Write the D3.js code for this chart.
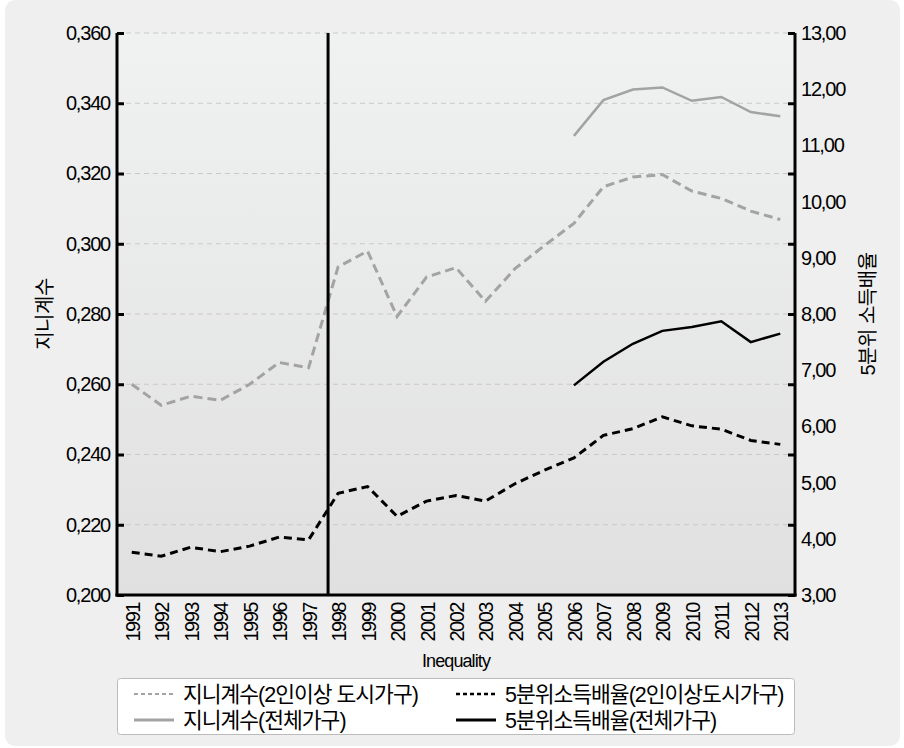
<!DOCTYPE html>
<meta charset="utf-8">
<script src="https://d3js.org/d3.v7.min.js"></script>
<style>
  body { margin: 0; background: #fff; }
  text { font-family: "Liberation Sans", "Noto Sans CJK KR", sans-serif; fill: #000; }
</style>
<div id="chart"></div>
<script>

// data
var years = d3.range(1991, 2014);
var giniUrban = [0.260, 0.254, 0.2566, 0.2554, 0.2600, 0.2662, 0.2647, 0.2934, 0.2979, 0.2793,
  0.2905, 0.2932, 0.2836, 0.2929, 0.2995, 0.3058, 0.3162, 0.3190, 0.3197, 0.3150, 0.3129, 0.3093, 0.3069];
var giniAllYears = d3.range(2006, 2014);
var giniAll = [0.3307, 0.3409, 0.3439, 0.3445, 0.3407, 0.3418, 0.3375, 0.3363];
var ratioUrban = [3.76, 3.69, 3.85, 3.77, 3.87, 4.03, 3.98, 4.81, 4.93, 4.40,
  4.67, 4.77, 4.67, 4.98, 5.22, 5.44, 5.84, 5.96, 6.17, 6.01, 5.95, 5.75, 5.68];
var ratioAll = [6.73, 7.15, 7.47, 7.70, 7.77, 7.87, 7.50, 7.65];
var leftTicks = [0.20, 0.22, 0.24, 0.26, 0.28, 0.30, 0.32, 0.34, 0.36];
var rightTicks = [3, 4, 5, 6, 7, 8, 9, 10, 11, 12, 13];
var crisisYear = 1997.66;
var legendLabels = ["지니계수(2인이상 도시가구)", "5분위소득배율(2인이상도시가구)",
  "지니계수(전체가구)", "5분위소득배율(전체가구)"];

var W = 904, H = 748;
var plotL = 117, plotR = 795, plotT = 33, plotB = 595;

var svg = d3.select("#chart").append("svg")
  .attr("width", W).attr("height", H);

// background panel
svg.append("rect")
  .attr("x", 5).attr("y", 0).attr("width", 895).attr("height", 746)
  .attr("rx", 10).attr("fill", "#efefef");

var defs = svg.append("defs");
var grad = defs.append("linearGradient").attr("id", "plotbg")
  .attr("x1", 0).attr("y1", 0).attr("x2", 0).attr("y2", 1);
grad.append("stop").attr("offset", "0%").attr("stop-color", "#f0f1f1");
grad.append("stop").attr("offset", "100%").attr("stop-color", "#e0e0e0");

svg.append("rect")
  .attr("x", plotL).attr("y", plotT)
  .attr("width", plotR - plotL).attr("height", plotB - plotT)
  .attr("fill", "url(#plotbg)");

// scales
var x = d3.scaleLinear().domain([1990.5, 2013.5]).range([plotL, plotR]);
var yL = d3.scaleLinear().domain([0.2, 0.36]).range([plotB, plotT]);
var yR = d3.scaleLinear().domain([3, 13]).range([plotB, plotT]);

var fmt3 = function(d) { return d3.format(".3f")(d).replace(".", ","); };
var fmt2 = function(d) { return d3.format(".2f")(d).replace(".", ","); };

// gridlines
svg.append("g")
  .selectAll("line")
  .data(leftTicks.slice(1))
  .enter()
  .append("line")
    .attr("x1", plotL).attr("x2", plotR)
    .attr("y1", function(d) { return yL(d); })
    .attr("y2", function(d) { return yL(d); })
    .attr("stroke", "#c9c9c9")
    .attr("stroke-dasharray", "5,4");

// lines
var lineL = d3.line()
  .x(function(d) { return x(d[0]); })
  .y(function(d) { return yL(d[1]); });
var lineR = d3.line()
  .x(function(d) { return x(d[0]); })
  .y(function(d) { return yR(d[1]); });

svg.append("path")
  .datum(d3.zip(years, giniUrban))
  .attr("d", lineL)
  .attr("fill", "none").attr("stroke", "#a3a3a3").attr("stroke-width", 3)
  .attr("stroke-dasharray", "9,5");

svg.append("path")
  .datum(d3.zip(giniAllYears, giniAll))
  .attr("d", lineL)
  .attr("fill", "none").attr("stroke", "#a3a3a3").attr("stroke-width", 2.5);

svg.append("path")
  .datum(d3.zip(years, ratioUrban))
  .attr("d", lineR)
  .attr("fill", "none").attr("stroke", "#000").attr("stroke-width", 3)
  .attr("stroke-dasharray", "8,5");

svg.append("path")
  .datum(d3.zip(giniAllYears, ratioAll))
  .attr("d", lineR)
  .attr("fill", "none").attr("stroke", "#000").attr("stroke-width", 2.5);

// crisis marker
svg.append("line")
  .attr("x1", x(crisisYear)).attr("x2", x(crisisYear))
  .attr("y1", plotT).attr("y2", plotB + 1)
  .attr("stroke", "#000").attr("stroke-width", 3);

// left axis
var gL = svg.append("g")
  .attr("transform", "translate(" + plotL + ",0)")
  .call(d3.axisLeft(yL).tickValues(leftTicks).tickSize(-7).tickPadding(7).tickFormat(fmt3));
gL.select(".domain").attr("stroke-width", 3).attr("d", "M0," + plotT + "V" + (plotB + 1.5));
gL.selectAll(".tick line").attr("stroke-width", 3);
gL.selectAll("text").attr("font-size", 20).attr("letter-spacing", "-1.2px").attr("fill", "#000")
  .attr("font-family", "'Liberation Sans', sans-serif");

// right axis: tick marks follow the left grid, labels follow the right scale
var gR = svg.append("g")
  .attr("transform", "translate(" + plotR + ",0)")
  .call(d3.axisRight(yL).tickValues(leftTicks).tickSize(-7).tickFormat(""));
gR.select(".domain").attr("stroke-width", 3).attr("d", "M0," + plotT + "V" + (plotB + 1.5));
gR.selectAll(".tick line").attr("stroke-width", 3);

svg.append("g")
  .selectAll("text")
  .data(rightTicks)
  .enter()
  .append("text")
    .attr("x", plotR + 6)
    .attr("y", function(d) { return yR(d); })
    .attr("dy", "0.35em")
    .attr("font-size", 20)
    .attr("letter-spacing", "-1.2px")
    .text(fmt2);

// bottom axis
svg.append("line")
  .attr("x1", plotL - 1.5).attr("x2", plotR + 1.5)
  .attr("y1", plotB).attr("y2", plotB)
  .attr("stroke", "#000").attr("stroke-width", 3);

svg.append("g")
  .selectAll("text")
  .data(years)
  .enter()
  .append("text")
    .attr("transform", function(d) { return "translate(" + (x(d) + 1) + "," + (plotB + 8) + ") rotate(-90)"; })
    .attr("dy", "0.35em")
    .attr("text-anchor", "end")
    .attr("font-size", 20)
    .attr("letter-spacing", "-1.5px")
    .text(function(d) { return d; });

// axis titles
svg.append("text")
  .attr("x", (plotL + plotR) / 2).attr("y", 667)
  .attr("text-anchor", "middle")
  .attr("font-size", 18)
  .attr("letter-spacing", "-0.9px")
  .text("Inequality");

svg.append("text")
  .attr("transform", "translate(45," + ((plotT + plotB) / 2) + ") rotate(-90)")
  .attr("text-anchor", "middle")
  .attr("dy", "0.35em")
  .attr("font-size", 20)
  .attr("letter-spacing", "-0.5px")
  .attr("font-family", "'Noto Sans CJK KR', sans-serif")
  .text("지니계수");

svg.append("text")
  .attr("transform", "translate(868," + ((plotT + plotB) / 2) + ") rotate(-90)")
  .attr("text-anchor", "middle")
  .attr("dy", "0.35em")
  .attr("font-size", 20)
  .attr("letter-spacing", "-0.5px")
  .attr("font-family", "'Noto Sans CJK KR', sans-serif")
  .text("5분위 소득배율");

// legend
var legend = svg.append("g");
legend.append("rect")
  .attr("x", 117.5).attr("y", 678.5).attr("width", 677).attr("height", 56)
  .attr("rx", 3).attr("fill", "#fff").attr("stroke", "#bbb");

var legendItems = [
  {label: legendLabels[0], col: 0, row: 0, color: "#a3a3a3", width: 2, dash: "4,3"},
  {label: legendLabels[1], col: 1, row: 0, color: "#000", width: 2.5, dash: "4,3"},
  {label: legendLabels[2], col: 0, row: 1, color: "#a3a3a3", width: 3, dash: null},
  {label: legendLabels[3], col: 1, row: 1, color: "#000", width: 3, dash: null}
];
var colX = [134, 456];
var rowY = [694, 720];

var li = legend.selectAll("g.item")
  .data(legendItems)
  .enter()
  .append("g")
    .attr("class", "item")
    .attr("transform", function(d) { return "translate(" + colX[d.col] + "," + rowY[d.row] + ")"; });

li.append("line")
  .attr("x1", 0).attr("x2", 40)
  .attr("stroke", function(d) { return d.color; })
  .attr("stroke-width", function(d) { return d.width; })
  .attr("stroke-dasharray", function(d) { return d.dash; });

li.append("text")
  .attr("x", 49)
  .attr("dy", "0.35em")
  .attr("font-size", 21.5)
  .attr("letter-spacing", "-1px")
  .attr("font-family", "'Noto Sans CJK KR', sans-serif")
  .text(function(d) { return d.label; });

</script>
